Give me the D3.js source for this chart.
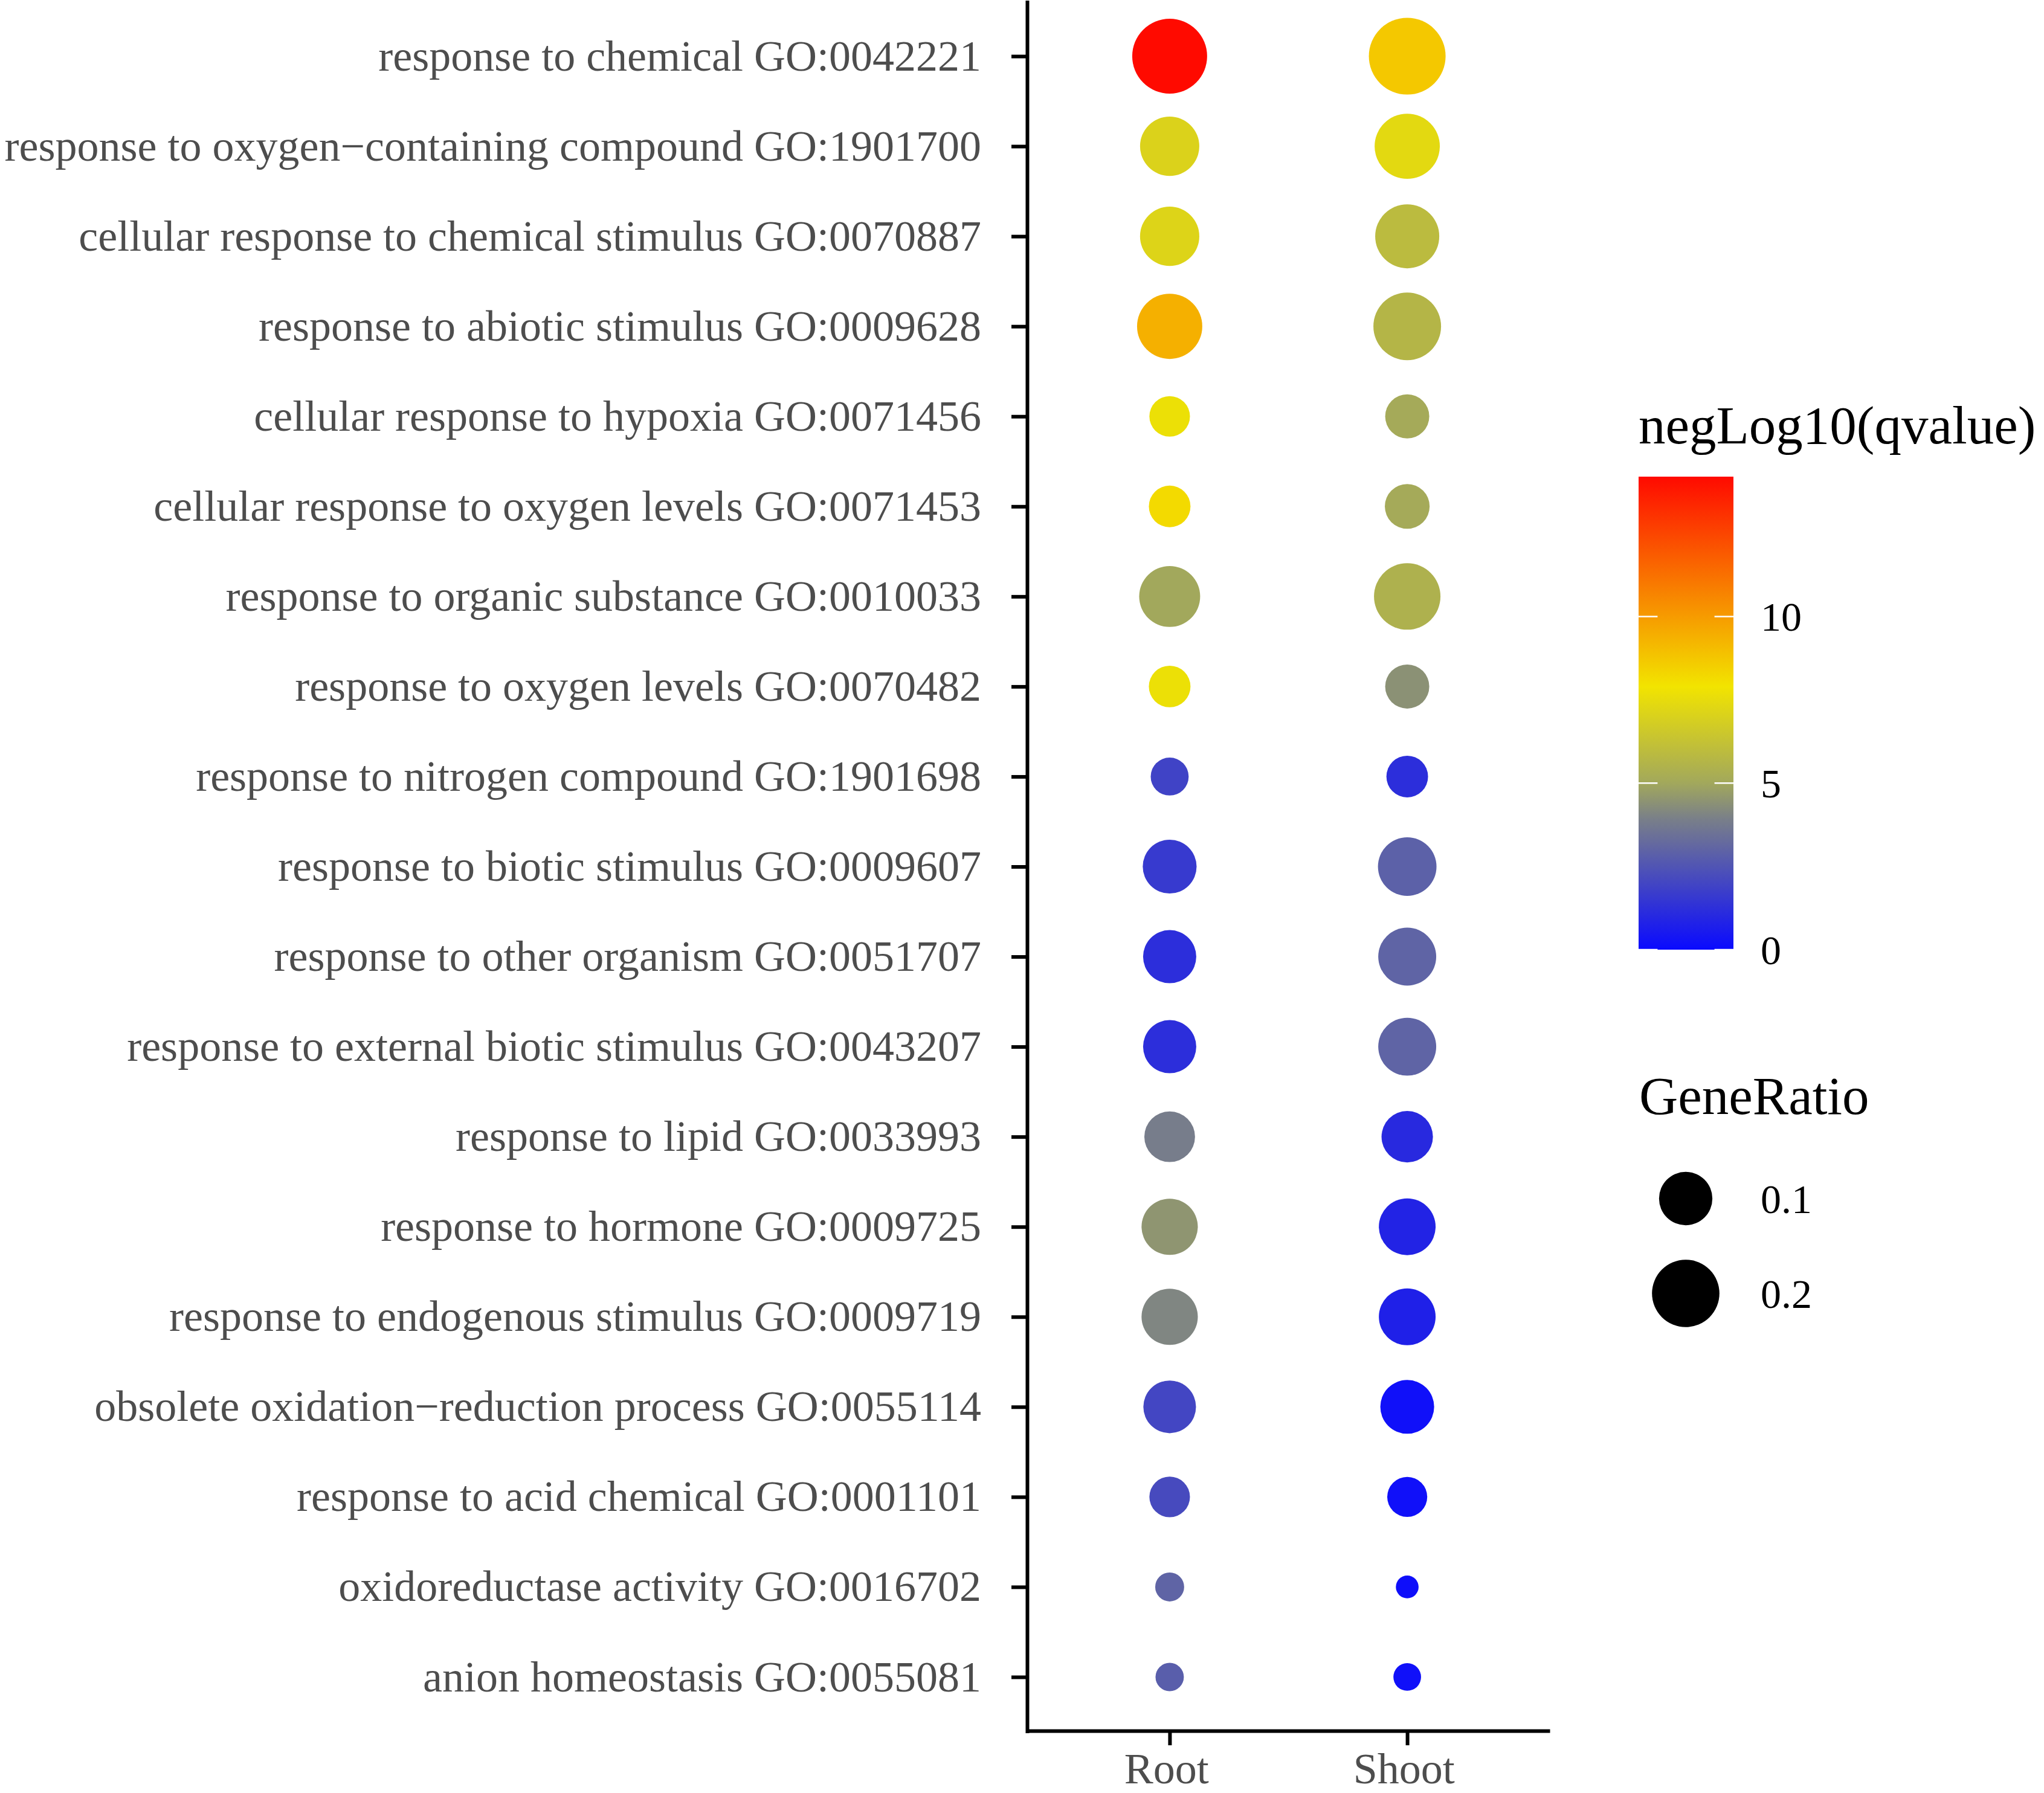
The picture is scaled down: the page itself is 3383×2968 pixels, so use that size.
<!DOCTYPE html>
<html>
<head>
<meta charset="utf-8">
<script src="https://cdn.jsdelivr.net/npm/d3@7"></script>
<style>
  body { margin: 0; background: #fff; }
  text { font-family: "Liberation Serif", "Times New Roman", serif; }
</style>
</head>
<body>
<div id="holder"></div>
<script>
const w = 3383;
const h = 2968;

// GO TERMS, TOP TO BOTTOM
const terms = [
  "response to chemical GO:0042221",
  "response to oxygen\u2212containing compound GO:1901700",
  "cellular response to chemical stimulus GO:0070887",
  "response to abiotic stimulus GO:0009628",
  "cellular response to hypoxia GO:0071456",
  "cellular response to oxygen levels GO:0071453",
  "response to organic substance GO:0010033",
  "response to oxygen levels GO:0070482",
  "response to nitrogen compound GO:1901698",
  "response to biotic stimulus GO:0009607",
  "response to other organism GO:0051707",
  "response to external biotic stimulus GO:0043207",
  "response to lipid GO:0033993",
  "response to hormone GO:0009725",
  "response to endogenous stimulus GO:0009719",
  "obsolete oxidation\u2212reduction process GO:0055114",
  "response to acid chemical GO:0001101",
  "oxidoreductase activity GO:0016702",
  "anion homeostasis GO:0055081"
];
const groups = ["Root", "Shoot"];

// GeneRatio (size)
const rootRatio  = [0.267, 0.138, 0.138, 0.182, 0.039, 0.043, 0.150, 0.043, 0.030, 0.103,
                    0.099, 0.099, 0.085, 0.118, 0.118, 0.096, 0.039, 0.008, 0.007];
const shootRatio = [0.285, 0.182, 0.173, 0.202, 0.053, 0.056, 0.192, 0.053, 0.043, 0.133,
                    0.129, 0.129, 0.089, 0.121, 0.121, 0.103, 0.037, 0.001, 0.006];

// negLog10(qvalue) (colour)
const rootQ  = [14.2, 7.05, 7.15, 9.4, 7.7, 8.2, 5.0, 7.7, 1.9, 1.6,
                1.2, 1.2, 3.85, 4.5, 4.1, 2.0, 2.15, 3.0, 2.8];
const shootQ = [8.7, 7.35, 5.9, 5.65, 5.1, 5.1, 5.45, 4.4, 1.2, 2.9,
                3.0, 3.0, 1.05, 0.85, 0.75, 0.2, 0.2, 0.15, 0.2];

const colorTicks = [0, 5, 10];
const sizeBreaks = [0.1, 0.2];

// colour ramp stops
const rampValues = [0, 3.95, 5, 7.9, 14.2];
const rampColors = ["#0a0aff", "#7a8088", "#a2a85c", "#f2e400", "#ff0a00"];

// CREATE SVG
const svg = d3.select("#holder")
  .append("svg")
  .attr("width", w)
  .attr("height", h)

svg.append("rect").attr("width", w).attr("height", h).attr("fill", "#fff")

// SCALES
const yScale = d3.scalePoint()
  .domain(terms)
  .range([3.6, 2865.4])
  .padding(0.6)

const xScale = d3.scalePoint()
  .domain(groups)
  .range([1700, 2565])
  .padding(0.6)

const qMax = 14.2
const colorScale = d3.scaleLinear()
  .domain(rampValues)
  .range(rampColors)
  .interpolate(d3.interpolateRgb)

const rScale = d3.scaleSqrt()
  .domain([0, 0.285])
  .range([16, 63.5])

// POINTS
const points = [];
terms.forEach((t, i) => {
  points.push({ term: t, group: "Root", ratio: rootRatio[i], q: rootQ[i] })
  points.push({ term: t, group: "Shoot", ratio: shootRatio[i], q: shootQ[i] })
})

svg.append("g")
  .selectAll("circle")
  .data(points)
  .enter()
  .append("circle")
  .attr("cx", d => xScale(d.group))
  .attr("cy", d => yScale(d.term))
  .attr("r", d => rScale(d.ratio))
  .attr("fill", d => colorScale(d.q))

// Y AXIS
const yAxis = d3.axisLeft(yScale).tickSize(26).tickSizeOuter(0).tickPadding(50)
const gy = svg.append("g")
  .attr("transform", "translate(1700,0)")
  .call(yAxis)
gy.select(".domain").attr("stroke", "#000").attr("stroke-width", 6).attr("stroke-linecap", "square")
gy.selectAll(".tick line").attr("stroke", "#000").attr("stroke-width", 6)
gy.selectAll(".tick text")
  .attr("fill", "#4D4D4D")
  .attr("font-size", 72)
  .attr("font-family", "Liberation Serif")

// X AXIS
const xAxis = d3.axisBottom(xScale).tickSize(24).tickSizeOuter(0).tickPadding(12)
const gx = svg.append("g")
  .attr("transform", "translate(0,2865)")
  .call(xAxis)
gx.select(".domain").attr("stroke", "#000").attr("stroke-width", 6)
gx.selectAll(".tick line").attr("stroke", "#000").attr("stroke-width", 6)
gx.selectAll(".tick text")
  .attr("fill", "#4D4D4D")
  .attr("font-size", 72)
  .attr("font-family", "Liberation Serif")
  .attr("dx", "-0.08em")

// COLOUR LEGEND
const barX = 2712, barW = 157
const barScale = d3.scaleLinear().domain([0, qMax]).range([1572, 789])

svg.append("text")
  .attr("x", 2712)
  .attr("y", 734)
  .attr("font-size", 89)
  .attr("fill", "#000")
  .text("negLog10(qvalue)")

const grad = svg.append("defs").append("linearGradient")
  .attr("id", "qgrad")
  .attr("x1", 0).attr("y1", 1).attr("x2", 0).attr("y2", 0)
grad.selectAll("stop")
  .data(rampValues)
  .enter()
  .append("stop")
  .attr("offset", d => d / qMax)
  .attr("stop-color", d => colorScale(d))

svg.append("rect")
  .attr("x", barX)
  .attr("y", barScale(qMax))
  .attr("width", barW)
  .attr("height", barScale(0) - barScale(qMax))
  .attr("fill", "url(#qgrad)")

const cTicks = svg.append("g").selectAll("g")
  .data(colorTicks)
  .enter()
  .append("g")
  .attr("transform", d => "translate(0," + barScale(d) + ")")
cTicks.append("line")
  .attr("x1", barX).attr("x2", barX + barW / 5)
  .attr("stroke", "#fff").attr("stroke-width", 2.5)
cTicks.append("line")
  .attr("x1", barX + barW * 4 / 5).attr("x2", barX + barW)
  .attr("stroke", "#fff").attr("stroke-width", 2.5)
cTicks.append("text")
  .attr("x", 2914)
  .attr("dy", "0.35em")
  .attr("font-size", 68)
  .attr("fill", "#000")
  .text(d => d)

// SIZE LEGEND
svg.append("text")
  .attr("x", 2713)
  .attr("y", 1844)
  .attr("font-size", 89)
  .attr("fill", "#000")
  .text("GeneRatio")

const sizeY = d3.scalePoint().domain(sizeBreaks).range([1984, 2141])
const sKeys = svg.append("g").selectAll("g")
  .data(sizeBreaks)
  .enter()
  .append("g")
  .attr("transform", d => "translate(0," + sizeY(d) + ")")
sKeys.append("circle")
  .attr("cx", 2790)
  .attr("r", d => rScale(d))
  .attr("fill", "#000")
sKeys.append("text")
  .attr("x", 2914)
  .attr("dy", "0.35em")
  .attr("font-size", 68)
  .attr("fill", "#000")
  .text(d => d)
</script>
</body>
</html>
